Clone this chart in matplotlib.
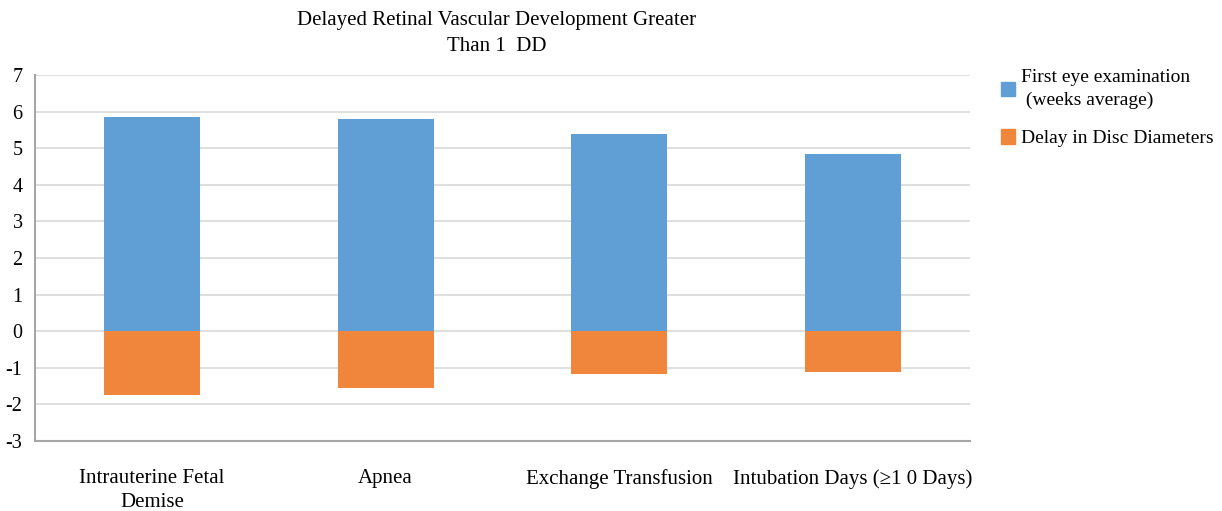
import matplotlib
matplotlib.use("Agg")
import matplotlib.pyplot as plt
from matplotlib.patches import Patch

categories = ["Intrauterine Fetal\nDemise", "Apnea", "Exchange Transfusion", "Intubation Days (\u22651 0 Days)"]
first_exam = [5.85, 5.79, 5.38, 4.84]
delay_dd = [-1.75, -1.56, -1.17, -1.12]
yticks = list(range(-3, 8))

blue = "#5F9FD6"
orange = "#EF863B"
fam = ["Liberation Serif", "DejaVu Serif"]
plt.rcParams['font.family'] = fam

fig = plt.figure(figsize=(12.22, 5.11), dpi=100)
ax = fig.add_axes([35/1222, 70/511, (970-35)/1222, (441-75)/511])

x = range(len(categories))
ax.bar(x, first_exam, width=0.41, color=blue, zorder=3)
ax.bar(x, delay_dd, width=0.41, color=orange, zorder=3)

ax.set_xlim(-0.5, 3.5)
ax.set_ylim(-3, 7)
ax.set_yticks(yticks)
ax.set_yticklabels([str(t) for t in yticks], fontsize=14.5)
ax.set_xticks(list(x))
ax.set_xticklabels(categories, fontsize=15, linespacing=1.35)
ax.tick_params(axis='x', length=0, pad=20)
ax.tick_params(axis='y', length=0, pad=9)
ax.grid(axis='y', color="#D9D9D9", linewidth=1.2, zorder=0)
for s in ['top', 'right']:
    ax.spines[s].set_visible(False)
for s in ['left', 'bottom']:
    ax.spines[s].set_color("#A6A6A6")
    ax.spines[s].set_linewidth(1.5)

fig.text(497/1222, 1 - 33.5/511, "Delayed Retinal Vascular Development Greater\nThan 1  DD",
         ha='center', va='center', fontsize=15, linespacing=1.45)

handles = [Patch(color=blue, label="First eye examination\n (weeks average)"),
           Patch(color=orange, label="Delay in Disc Diameters")]
leg = fig.legend(handles=handles, loc='upper left', bbox_to_anchor=(993/1222, 1 - 61/511),
                 frameon=False, fontsize=14, handlelength=0.75, handleheight=0.75,
                 handletextpad=0.3, labelspacing=1.05, borderaxespad=0.0)
for t in leg.get_texts():
    t.set_linespacing(1.45)

fig.savefig("out.png", dpi=100)
